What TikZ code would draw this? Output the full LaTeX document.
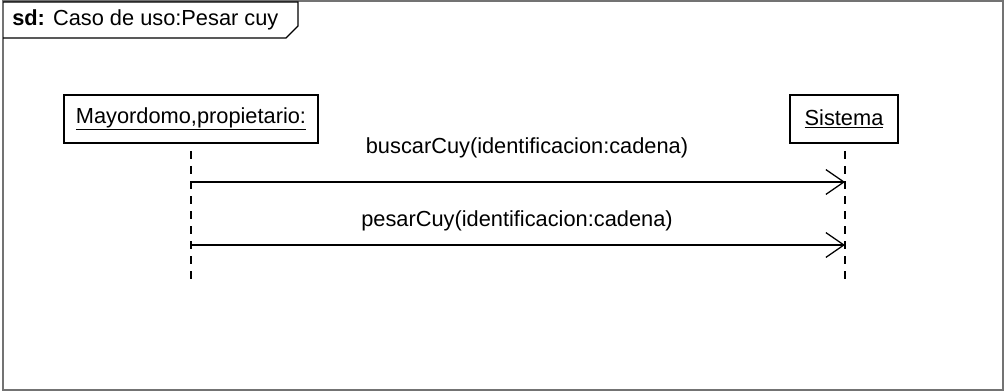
\documentclass[tikz,border=0pt]{standalone}
\usepackage{fontspec}
\setmainfont{Liberation Sans}
\usetikzlibrary{arrows.meta}

\begin{document}
\begin{tikzpicture}[
    x=0.025cm, y=-0.025cm,
    obj/.style={draw, line width=1pt, minimum height=1.2cm, inner sep=0pt, font=\fontsize{15.5}{18}\selectfont}, % objetos
    lifeline/.style={line width=1pt, dash pattern=on 5.7pt off 5pt},
    msg/.style={line width=0.9pt, -{Straight Barb[length=0.45cm, width=0.62cm, line width=0.9pt]}},
    lbl/.style={font=\fontsize{15.5}{18}\selectfont, inner sep=0pt}
    ]
\useasboundingbox (0,0) rectangle (1005,392);
% marco
\draw[black!55, line width=1.4pt] (3,1) rectangle (1003,390);
\draw[line width=0.9pt] (3,2) -- (298,2) -- (298,26) -- (286,38) -- (3,38);
\node[lbl, anchor=west] (titulo) at (12,20) {\textbf{sd:} Caso de uso:Pesar cuy};

% objetos
\node[obj, minimum width=6.35cm] (may) at (191,119) {\underline{Mayordomo,propietario:}};
\node[obj, minimum width=2.7cm] (sis) at (844,119) {\underline{Sistema}};
\coordinate (mayEnd) at (191,283);
\coordinate (sisEnd) at (845,283);
\draw[lifeline] ([yshift=-0.18cm]may.south) -- (mayEnd);
\draw[lifeline] ([yshift=-0.18cm, xshift=0.025cm]sis.south) -- (sisEnd);

% mensajes
\coordinate (m1a) at (191,182);
\coordinate (m1b) at (845,182);
\coordinate (m2a) at (191,245);
\coordinate (m2b) at (845,245);
\draw[msg] (m1a) -- (m1b);
\draw[msg] (m2a) -- (m2b);
\node[lbl] (buscar) at (527,148) {buscarCuy(identificacion:cadena)};
\node[lbl] (pesar) at (517,221) {pesarCuy(identificacion:cadena)};
\end{tikzpicture}
\end{document}
